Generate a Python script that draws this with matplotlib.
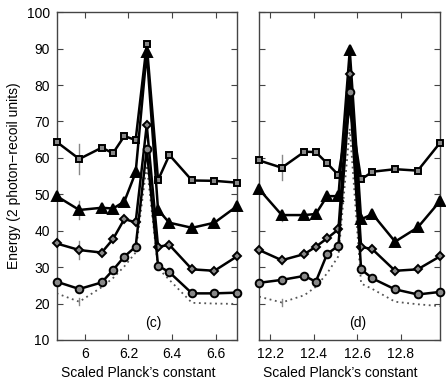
import matplotlib
matplotlib.use("Agg")
import matplotlib.pyplot as plt
import numpy as np

plt.rcParams['font.family'] = ['Liberation Sans', 'DejaVu Sans']

# ---- data: panel (c) ----
x_c = [5.87, 5.974, 6.077, 6.129, 6.181, 6.233, 6.284, 6.336, 6.388, 6.492, 6.595, 6.70]
sq_c = [64.4, 59.7, 62.8, 61.3, 66.0, 64.9, 91.2, 53.9, 60.8, 53.8, 53.7, 53.2]
tri_c = [49.5, 45.7, 46.3, 46.1, 48.0, 56.0, 89.0, 45.7, 42.2, 40.8, 42.2, 46.8]
dia_c = [36.5, 34.7, 34.0, 37.7, 43.2, 42.3, 69.0, 35.6, 36.1, 29.4, 29.0, 33.0]
cir_c = [26.0, 24.0, 25.8, 29.2, 32.9, 35.6, 62.4, 30.4, 28.6, 22.8, 22.8, 23.0]
dot_c = [22.8, 20.5, 24.5, 27.0, 30.2, 34.0, 58.0, 29.7, 26.5, 20.2, 20.0, 19.9]

# ---- data: panel (d) ----
x_d = [12.149, 12.253, 12.357, 12.409, 12.461, 12.513, 12.565, 12.617, 12.669, 12.773, 12.877, 12.98]
sq_d = [59.3, 57.3, 61.7, 61.6, 58.5, 55.3, 74.0, 54.1, 56.2, 56.9, 56.5, 64.2]
tri_d = [51.4, 44.3, 44.3, 44.6, 49.5, 49.5, 89.5, 43.1, 44.6, 37.0, 40.9, 48.2]
dia_d = [34.7, 31.9, 33.6, 35.6, 37.9, 40.4, 83.0, 35.6, 34.9, 29.0, 29.4, 33.0]
cir_d = [25.7, 26.5, 27.6, 26.0, 33.6, 35.9, 78.0, 29.4, 26.9, 23.9, 22.5, 23.2]
dot_d = [21.9, 20.3, 22.3, 24.6, 28.3, 33.0, 68.0, 25.5, 24.0, 20.5, 19.8, 19.3]

# error bars at the second point of each series: (x, y, half-width)
err_c = [(5.974, 59.7, 4.0), (5.974, 45.7, 2.6), (5.974, 34.7, 2.5), (5.974, 24.0, 0.8), (5.974, 20.5, 1.0)]
err_d = [(12.253, 57.3, 3.5), (12.253, 44.3, 1.5), (12.253, 31.9, 1.0), (12.253, 26.5, 0.6), (12.253, 20.3, 1.0)]

yticks = [10, 20, 30, 40, 50, 60, 70, 80, 90, 100]
xticks_c = [6.0, 6.2, 6.4, 6.6]
xticks_d = [12.2, 12.4, 12.6, 12.8]

fig = plt.figure(figsize=(4.46, 3.82), dpi=100)
ax1 = fig.add_axes([0.127, 0.110, 0.405, 0.858])
ax2 = fig.add_axes([0.581, 0.110, 0.406, 0.858])

spine_col = '#444444'

def draw(ax, x, series, dots, errs, xticks, xlim, label, labx, showy):
    ax.plot(x, dots, linestyle=(0, (1, 2)), color='#555555', lw=1.3, zorder=2)
    for (ex, ey, eh) in errs:
        ax.plot([ex, ex], [ey - eh, ey + eh], color='#888888', lw=1.0, zorder=1)
    markers = ['s', '^', 'D', 'o']
    sizes = [4.5, 6.5, 4.5, 5.5]
    faces = ['#888888', 'black', '#888888', '#888888']
    for ys, m, s, fc in zip(series, markers, sizes, faces):
        ax.plot(x, ys, color='black', lw=1.8, marker=m, markersize=s,
                markerfacecolor=fc, markeredgecolor='black', markeredgewidth=1.4,
                zorder=3, clip_on=False)
    ax.set_xlim(*xlim)
    ax.set_ylim(10, 100)
    ax.set_xticks(xticks)
    ax.set_xticklabels([('%g' % t) for t in xticks], fontsize=10)
    ax.set_yticks(yticks)
    if showy:
        ax.set_yticklabels([str(t) for t in yticks], fontsize=10)
    else:
        ax.set_yticklabels([])
    ax.tick_params(direction='in', top=True, right=True, length=4, width=0.8,
                   color=spine_col, pad=5)
    for sp in ax.spines.values():
        sp.set_color(spine_col)
        sp.set_linewidth(1.0)
    ax.text(labx, 14.6, label, ha='center', va='center', fontsize=10)
    pos = ax.get_position()
    fig.text(pos.x0 + pos.width / 2 - 0.02, 0.014, "Scaled Planck\u2019s constant",
             ha='center', va='baseline', fontsize=10)

draw(ax1, x_c, [sq_c, tri_c, dia_c, cir_c], dot_c, err_c, xticks_c, (5.87, 6.70), '(c)', 6.316, True)
draw(ax2, x_d, [sq_d, tri_d, dia_d, cir_d], dot_d, err_d, xticks_d, (12.149, 12.98), '(d)', 12.6, False)
ax1.set_ylabel('Energy (2 photon\u2212recoil units)', fontsize=10, labelpad=4)

fig.savefig('out.png', dpi=100)
